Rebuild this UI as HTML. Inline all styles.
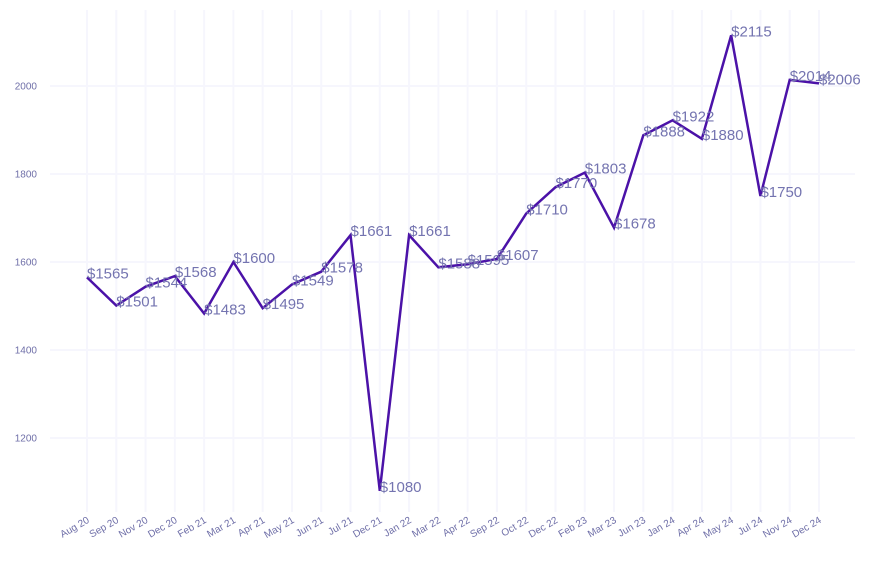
<!DOCTYPE html>
<html><head><meta charset="utf-8"><style>
html,body{margin:0;padding:0;background:#fff;}
svg{display:block;font-family:"Liberation Sans",sans-serif;}
</style></head><body>
<svg id="chart" width="873" height="565" viewBox="0 0 873 565">
<g id="grid"></g>
<g id="yaxis"></g>
<g id="xaxis"></g>
<g id="series"></g>
<g id="labels"></g>
</svg>
<script>
const categories = ["Aug 20","Sep 20","Nov 20","Dec 20","Feb 21","Mar 21","Apr 21","May 21","Jun 21","Jul 21","Dec 21","Jan 22","Mar 22","Apr 22","Sep 22","Oct 22","Dec 22","Feb 23","Mar 23","Jun 23","Jan 24","Apr 24","May 24","Jul 24","Nov 24","Dec 24"];
const prices = [1565,1501,1544,1568,1483,1600,1495,1549,1578,1661,1080,1661,1588,1595,1607,1710,1770,1803,1678,1888,1922,1880,2115,1750,2014,2006];
const yTicks = [1200,1400,1600,1800,2000];

const NS = "http://www.w3.org/2000/svg";
const x0 = 87, x1 = 819;
const xScale = i => x0 + (x1 - x0) * i / (categories.length - 1);
const yScale = v => 262 - (v - 1600) * 88 / 200;
function mk(tag, attrs, parent){const e=document.createElementNS(NS,tag);for(const k in attrs)e.setAttribute(k,attrs[k]);parent.appendChild(e);return e;}
const grid=document.getElementById('grid'), yaxis=document.getElementById('yaxis'), xaxis=document.getElementById('xaxis'), series=document.getElementById('series'), labels=document.getElementById('labels');

yTicks.forEach(t=>{
  const y=yScale(t);
  const l=mk('line',{x1:50,x2:855,y1:y,y2:y,stroke:'#f6f6fd','stroke-width':2},grid);
  
  
  const tx=mk('text',{x:37,y:y+3.5,'text-anchor':'end','font-size':10,fill:'#6f6fa8'},yaxis);
  tx.textContent=t;
  
  
});
categories.forEach((c,i)=>{
  const x=xScale(i);
  const l=mk('line',{x1:x,x2:x,y1:10,y2:512,stroke:'#f6f6fd','stroke-width':2},grid);
  
  
  const tx=mk('text',{x:x+3,y:522,'text-anchor':'end','font-size':10,fill:'#6f6fa8',transform:`rotate(-30 ${x+3} 522)`},xaxis);
  tx.textContent=c;
  
  
});
const pts=prices.map((v,i)=>xScale(i)+','+yScale(v)).join(' ');
const pl=mk('polyline',{points:pts,fill:'none',stroke:'#4b12a8','stroke-width':2.5,'stroke-linejoin':'miter'},series);


prices.forEach((v,i)=>{
  const tx=mk('text',{x:xScale(i),y:yScale(v)+1,'font-size':15,fill:'#7474b0'},labels);
  tx.textContent='$'+v;
  
  
});
</script>
</body></html>
